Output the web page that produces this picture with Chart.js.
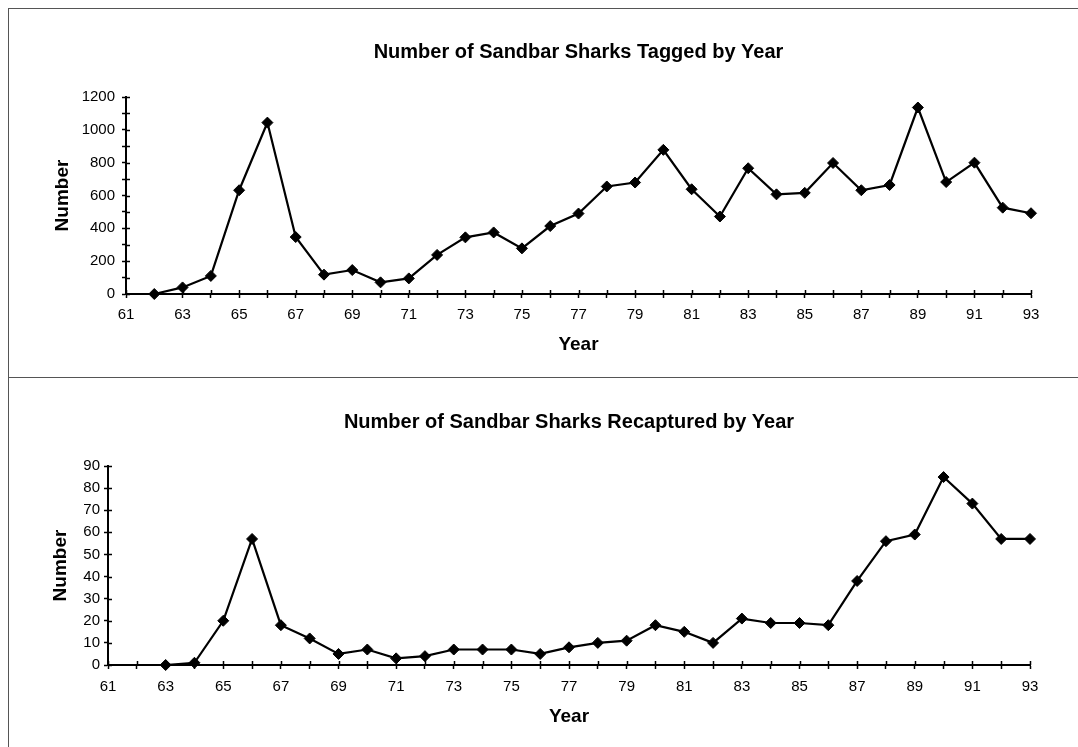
<!DOCTYPE html>
<html>
<head>
<meta charset="utf-8">
<script src="https://cdn.jsdelivr.net/npm/chart.js@4/dist/chart.umd.min.js"></script>
<style>
	body { margin: 0; background: #fff; overflow: hidden; }
	.panel { position: absolute; left: 8px; width: 1090px; box-sizing: border-box; border-top: 1px solid #555; border-left: 1px solid #555; }
	#top { top: 8px; height: 370px; }
	#bottom { top: 377px; height: 380px; }
	canvas { display: block; }
</style>
</head>
<body>
<div class="panel" id="top"><canvas id="tagged" width="1069" height="368"></canvas></div>
<div class="panel" id="bottom"><canvas id="recaptured" width="1069" height="369"></canvas></div>
<script>
const taggedYears = [62, 63, 64, 65, 66, 67, 68, 69, 70, 71, 72, 73, 74, 75, 76, 77, 78, 79, 80, 81, 82, 83, 84, 85, 86, 87, 88, 89, 90, 91, 92, 93];
const taggedCounts = [0, 40, 110, 632, 1044, 347, 118, 146, 71, 95, 238, 345, 375, 278, 414, 490, 655, 679, 878, 638, 472, 766, 607, 616, 798, 632, 664, 1136, 682, 800, 526, 492];

const recapYears = [63, 64, 65, 66, 67, 68, 69, 70, 71, 72, 73, 74, 75, 76, 77, 78, 79, 80, 81, 82, 83, 84, 85, 86, 87, 88, 89, 90, 91, 92, 93];
const recapCounts = [0, 1, 20, 57, 18, 12, 5, 7, 3, 4, 7, 7, 7, 5, 8, 10, 11, 18, 15, 10, 21, 19, 19, 18, 38, 56, 59, 85, 73, 57, 57];

const FONT = "'Liberation Sans', Arial, sans-serif";

// inward half of the tick marks (Excel style ticks cross the axis)
const crossTicks = {
	id: "crossTicks",
	beforeDatasetsDraw(chart) {
		const ctx = chart.ctx;
		const xs = chart.scales.x;
		const ys = chart.scales.y;
		ctx.save();
		ctx.strokeStyle = "#000";
		ctx.lineWidth = 1.5;
		ctx.beginPath();
		xs.ticks.forEach((t) => {
			const px = Math.round(xs.getPixelForValue(t.value)) + 0.5;
			ctx.moveTo(px, xs.top);
			ctx.lineTo(px, xs.top - 4);
		});
		ys.ticks.forEach((t) => {
			const py = Math.round(ys.getPixelForValue(t.value)) + 0.5;
			ctx.moveTo(ys.right, py);
			ctx.lineTo(ys.right + 4, py);
		});
		ctx.stroke();
		ctx.restore();
	},
};

function makeChart(el, cfg) {
	const points = cfg.years.map((year, i) => ({ x: year, y: cfg.values[i] }));

	return new Chart(document.querySelector(el), {
		type: "line",
		data: {
			datasets: [
				{
					data: points,
					borderColor: "#000",
					backgroundColor: "#000",
					borderWidth: 2.2,
					pointStyle: "rectRot",
					pointRadius: 5.5,
					pointBorderWidth: 1,
					tension: 0,
					clip: false,
				},
			],
		},
		options: {
			responsive: false,
			animation: false,
			layout: { padding: cfg.padding },
			plugins: {
				legend: { display: false },
				tooltip: { enabled: false },
				title: {
					display: true,
					text: cfg.title,
					fullSize: false,
					color: "#000",
					font: { family: FONT, size: 20, weight: "bold" },
					padding: cfg.titlePadding,
				},
			},
			scales: {
				x: {
					type: "linear",
					min: 61,
					max: 93,
					afterFit: (s) => { s.height = cfg.xHeight; },
					ticks: {
						stepSize: 1,
						autoSkip: false,
						maxRotation: 0,
						padding: cfg.xTickPad,
						color: "#000",
						font: { family: FONT, size: 15 },
						callback: (v) => (v % 2 === 1 ? String(v) : ""),
					},
					grid: { drawOnChartArea: false, tickLength: 4, tickWidth: 1.5, tickColor: "#000" },
					border: { color: "#000", width: 2 },
					title: {
						display: true,
						text: "Year",
						color: "#000",
						font: { family: FONT, size: 19, weight: "bold" },
						padding: { top: 4, bottom: 4 },
					},
				},
				y: {
					min: 0,
					max: cfg.yMax,
					afterFit: (s) => { s.width = cfg.yWidth; },
					ticks: {
						stepSize: cfg.yStep,
						autoSkip: false,
						padding: cfg.yTickPad,
						color: "#000",
						font: { family: FONT, size: 15 },
						callback: (v) => (v % cfg.yLabelEvery === 0 ? String(v) : ""),
					},
					grid: { drawOnChartArea: false, tickLength: 4, tickWidth: 1.5, tickColor: "#000" },
					border: { color: "#000", width: 2 },
					title: {
						display: true,
						text: "Number",
						color: "#000",
						font: { family: FONT, size: 19, weight: "bold" },
						padding: { top: 4, bottom: 4 },
					},
				},
			},
		},
		plugins: [crossTicks],
	});
}

makeChart("#tagged", {
	years: taggedYears,
	values: taggedCounts,
	title: "Number of Sandbar Sharks Tagged by Year",
	padding: { left: 38, right: 47, top: 0, bottom: 17 },
	titlePadding: { top: 31, bottom: 33 },
	xHeight: 66,
	yWidth: 79,
	xTickPad: 8,
	yTickPad: 7,
	yMax: 1200,
	yStep: 100,
	yLabelEvery: 200,
});

makeChart("#recaptured", {
	years: recapYears,
	values: recapCounts,
	title: "Number of Sandbar Sharks Recaptured by Year",
	padding: { left: 36, right: 48, top: 0, bottom: 15 },
	titlePadding: { top: 32, bottom: 32 },
	xHeight: 67,
	yWidth: 63,
	xTickPad: 9,
	yTickPad: 4,
	yMax: 90,
	yStep: 10,
	yLabelEvery: 10,
});
</script>
</body>
</html>
